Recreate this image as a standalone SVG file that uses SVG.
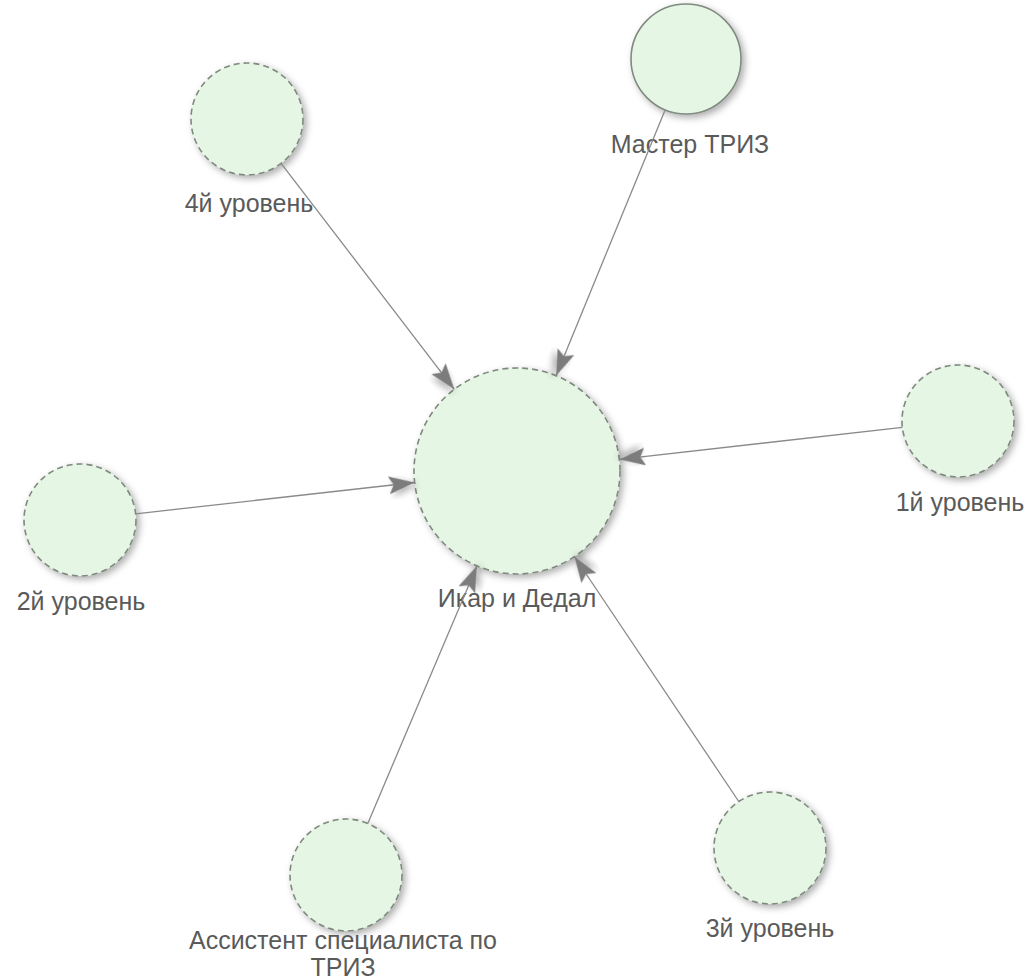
<svg xmlns="http://www.w3.org/2000/svg" width="1027" height="980" viewBox="0 0 1027 980">
  <style>
    .node circle { fill: #e6f6e4; stroke: #7d8a7d; stroke-width: 1.6; stroke-dasharray: 6 4; filter: url(#shadow); }
    .node circle.solid { stroke-dasharray: none; stroke: #808a80; }
    .node text { font-family: "Liberation Sans", Arial, sans-serif; font-size: 25px; fill: #5a5a5a; text-anchor: middle; }
    .edge { stroke: #8a8a8a; stroke-width: 1.3; fill: none; marker-end: url(#arrow); }
  </style>
  <defs>
    <filter id="shadow" x="-30%" y="-30%" width="160%" height="160%">
      <feDropShadow dx="3" dy="3" stdDeviation="3.5" flood-color="#000" flood-opacity="0.32"/>
    </filter>
    <marker id="arrow" markerUnits="userSpaceOnUse" markerWidth="32" markerHeight="24" refX="26" refY="9" orient="auto" viewBox="0 0 32 24">
      <polygon points="0,0 26,9 0,18 5,9" fill="#7c7c7c" filter="url(#shadow)"/>
    </marker>
  </defs>

  <rect width="1027" height="980" fill="#ffffff"/>

  <g id="n-ikar" class="node">
    <circle cx="517" cy="471" r="103"/>
    <text x="517" y="607">Икар и Дедал</text>
  </g>
  <g id="n-master" class="node">
    <circle class="solid" cx="686" cy="59" r="55"/>
    <text x="690" y="153">Мастер ТРИЗ</text>
  </g>
  <g id="n-level4" class="node">
    <circle cx="247" cy="119" r="56"/>
    <text x="249" y="212">4й уровень</text>
  </g>
  <g id="n-level1" class="node">
    <circle cx="958" cy="421" r="56"/>
    <text x="960" y="511">1й уровень</text>
  </g>
  <g id="n-level2" class="node">
    <circle cx="80" cy="520" r="56"/>
    <text x="81" y="610">2й уровень</text>
  </g>
  <g id="n-assistant" class="node">
    <circle cx="346" cy="875" r="56"/>
    <text x="343" y="949">Ассистент специалиста по</text>
    <text x="343" y="976">ТРИЗ</text>
  </g>
  <g id="n-level3" class="node">
    <circle cx="770" cy="848" r="56"/>
    <text x="770" y="937">3й уровень</text>
  </g>

  <g id="edges">
    <line class="edge" x1="665.1" y1="109.9" x2="556.1" y2="375.7"/>
    <line class="edge" x1="281.1" y1="163.4" x2="454.3" y2="389.3"/>
    <line class="edge" x1="902.4" y1="427.3" x2="619.4" y2="459.4"/>
    <line class="edge" x1="135.7" y1="513.8" x2="414.6" y2="482.5"/>
    <line class="edge" x1="367.8" y1="823.4" x2="476.9" y2="565.9"/>
    <line class="edge" x1="738.8" y1="801.5" x2="574.4" y2="556.5"/>
  </g>
</svg>
